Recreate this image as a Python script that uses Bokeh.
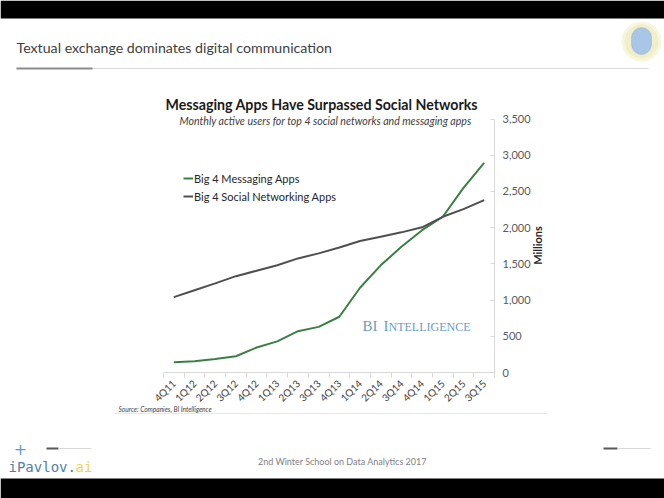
from math import pi
from bokeh.plotting import figure
from bokeh.embed import file_html
from bokeh.resources import INLINE
from bokeh.models import (Label, BoxAnnotation, Legend, LegendItem, FixedTicker,
                          NumeralTickFormatter, SingleIntervalTicker, Range1d, ColumnDataSource)

quarters = ["4Q11", "1Q12", "2Q12", "3Q12", "4Q12", "1Q13", "2Q13", "3Q13",
            "4Q13", "1Q14", "2Q14", "3Q14", "4Q14", "1Q15", "2Q15", "3Q15"]
messaging = [140, 155, 185, 225, 345, 430, 570, 630, 770, 1170, 1480, 1735, 1965, 2150, 2550, 2895]
social = [1040, 1135, 1230, 1330, 1405, 1480, 1575, 1645, 1725, 1815, 1875, 1935, 2005, 2150, 2255, 2380]
y_ticks_step = 500
y_max = 3500

W, H = 664, 498
# chart plot area on the canvas (pixels)
PL, PR, PT, PB = 163, 494, 118.5, 372

n = len(quarters)
x0, x1 = -0.5, n - 0.5
xs = (x1 - x0) / (PR - PL)
ys = y_max / (PB - PT)

p = figure(width=W, height=H,
           x_range=Range1d(x0 - PL * xs, x1 + (W - PR) * xs),
           y_range=Range1d(0 - (H - PB) * ys, y_max + PT * ys),
           y_axis_location="right",
           output_backend="svg", toolbar_location=None,
           min_border=0, min_border_left=0, min_border_right=0,
           min_border_top=0, min_border_bottom=0)
p.xgrid.visible = False
p.ygrid.visible = False
p.outline_line_color = None
p.background_fill_color = "white"
p.border_fill_color = "white"

idx = list(range(n))
src = ColumnDataSource(dict(x=idx, messaging=messaging, social=social))

xa = p.xaxis[0]
xa.fixed_location = 0
xa.bounds = (x0, x1)
xa.ticker = FixedTicker(ticks=idx, minor_ticks=[i - 0.5 for i in range(n + 1)])
xa.major_label_overrides = {i: q for i, q in enumerate(quarters)}
xa.major_label_orientation = pi / 4
xa.major_tick_line_color = None
xa.minor_tick_in = 0
xa.minor_tick_out = 5
xa.minor_tick_line_color = "#d9d9d9"
xa.axis_line_color = "#d9d9d9"
xa.major_label_text_font = "Lato"
xa.major_label_text_font_size = "10px"
xa.major_label_text_color = "#404040"
xa.major_label_standoff = 3

ya = p.yaxis[0]
ya.fixed_location = x1
ya.bounds = (0, y_max)
ya.ticker = SingleIntervalTicker(interval=y_ticks_step, num_minor_ticks=0)
ya.formatter = NumeralTickFormatter(format="0,0")
ya.major_tick_in = 4
ya.major_tick_out = 0
ya.minor_tick_line_color = None
ya.major_tick_line_color = "#d9d9d9"
ya.axis_line_color = "#d9d9d9"
ya.major_label_text_font = "Lato"
ya.major_label_text_font_size = "11px"
ya.major_label_text_color = "#595959"
ya.major_label_standoff = 8

g = p.line("x", "messaging", source=src, line_color="#3b7f45", line_width=2)
s = p.line("x", "social", source=src, line_color="#4f4f4f", line_width=2)

legend = Legend(items=[LegendItem(label="Big 4 Messaging Apps", renderers=[g]),
                       LegendItem(label="Big 4 Social Networking Apps", renderers=[s])],
                location=(183, 295), glyph_width=10, glyph_height=14, label_height=14,
                label_standoff=1, spacing=4, padding=0, margin=0,
                border_line_color=None, background_fill_alpha=0,
                label_text_font="Lato", label_text_font_size="11px", label_text_color="#262626")
p.add_layout(legend)


def box(l, t, r, b, color, radius=0, line=None, alpha=1):
    bx = BoxAnnotation(left=l, right=r, top=t, bottom=b,
                       left_units="canvas", right_units="canvas",
                       top_units="canvas", bottom_units="canvas",
                       fill_color=color, fill_alpha=alpha, line_color=line,
                       border_radius=radius, level="underlay")
    p.add_layout(bx)


def label(x, y, text, size, color, font="Lato", style="normal", align="left",
          base="middle", angle=0):
    p.add_layout(Label(x=x, y=y, x_units="canvas", y_units="canvas", text=text,
                       text_font=font, text_font_size=size, text_color=color,
                       text_font_style=style, text_align=align, text_baseline=base,
                       angle=angle))


# black bars
box(0, 0, W, 18, "black")
box(0, 478, W, H, "black")
# header separator
box(16, 67.5, 648, 68.5, "#d9d9d9")
box(16, 67, 92, 69, "#8c8c8c")
# logo
box(621, 21, 661, 61, "#f7f6de", radius=20)
box(624, 24, 658, 58, "#f1efc9", radius=17)
box(631, 27, 651, 54, "#a9c6e6", radius=10, line="#6f97c5")
# footer lines
box(46, 447, 58, 449, "#595959")
box(58, 447.5, 91, 448.5, "#d9d9d9")
box(603, 447, 617, 449, "#595959")
box(617, 447.5, 650, 448.5, "#d9d9d9")
# source separator
box(114, 412.5, 546, 413.5, "#e6e6e6")

label(16, 47, "Textual exchange dominates digital communication", "14.2px", "#404040")
label(165, 104, "Messaging Apps Have Surpassed Social Networks", "14.2px", "#1a1a1a", style="bold")
label(179, 120, "Monthly active users for top 4 social networks and messaging apps", "10.6px",
      "#404040", style="italic")
label(537, 245, "Millions", "11px", "#262626", style="bold", align="center", angle=pi / 2)
label(362, 325, "BI", "15px", "#6b9bc8", font="Liberation Serif")
label(383, 325, "I", "15px", "#6b9bc8", font="Liberation Serif")
label(388, 326, "NTELLIGENCE", "12px", "#6b9bc8", font="Liberation Serif")
label(118, 408, "Source: Companies, BI Intelligence", "6.6px", "#404040", style="italic")
label(20, 448, "+", "16px", "#5b9bd5", font="DejaVu Sans", align="center")
label(8, 466, "iPavlov.", "14px", "#4f81a8", font="DejaVu Sans Mono")
label(75, 466, "ai", "14px", "#f2d64b", font="DejaVu Sans Mono")
label(342, 461, "2nd Winter School on Data Analytics 2017", "9px", "#7f7f7f", align="center")

open("out.html", "w").write(file_html(p, INLINE))
